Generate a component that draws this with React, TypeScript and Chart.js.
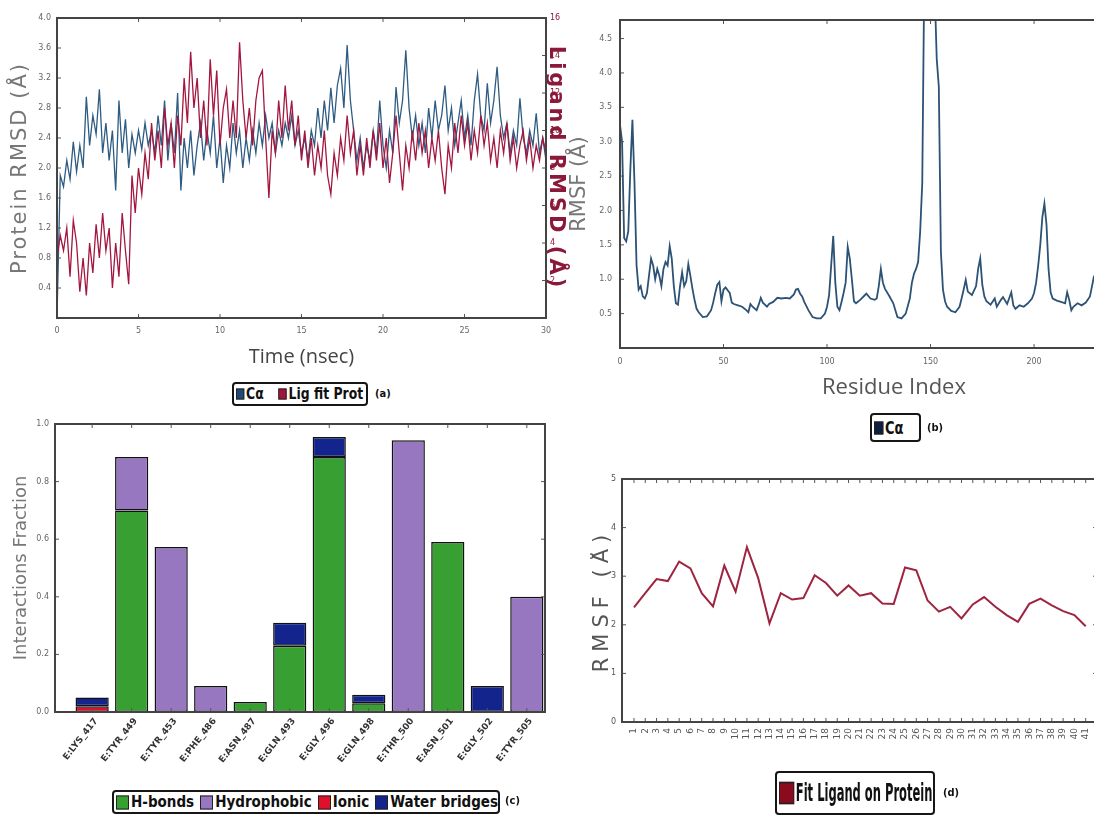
import React, { useEffect, useRef } from 'react';
import { Chart, registerables } from 'chart.js';

Chart.register(...registerables);
Chart.defaults.font.family = "'DejaVu Sans', sans-serif";

// ---------------- Panel (a): RMSD vs time ----------------
const A_TIME_STEP = 0.2; // ns between frames
const A_CA_RMSD = [
  0.0, 1.9, 1.75, 2.1, 1.85, 2.35, 1.95, 2.3, 2.0, 2.95,
  2.3, 2.7, 2.45, 3.05, 2.2, 2.6, 2.1, 2.5, 1.7, 2.9,
  2.2, 2.65, 2.0, 2.45, 2.2, 2.5, 2.25, 2.6, 2.3, 2.5,
  2.2, 2.7, 2.3, 2.9, 2.1, 2.6, 2.2, 3.0, 1.7, 2.4,
  2.0, 2.5, 1.9, 2.3, 2.6, 2.1, 2.5, 2.2, 2.7, 2.0,
  2.4, 1.8, 2.3, 2.0, 2.6, 2.2, 2.5, 2.0, 2.4, 2.1,
  2.5, 2.2, 2.6, 2.3, 2.7, 2.4, 2.6, 2.2, 2.5, 2.3,
  2.6, 2.4, 2.7, 2.3, 2.5, 2.2, 2.4, 2.1, 2.5, 2.3,
  2.8, 2.4, 2.9, 2.5, 3.07, 2.6, 3.1, 3.33, 2.8, 3.64,
  2.9, 2.5, 2.1, 2.4, 2.0, 2.3, 2.1, 2.5, 2.2, 2.9,
  2.3, 2.0, 2.5, 2.2, 3.08, 2.6, 2.9, 3.57, 2.8, 2.4,
  2.7, 2.3, 2.6, 2.2, 2.8, 2.4, 2.9, 2.5, 2.7, 3.1,
  2.5, 2.8, 2.3, 2.6, 2.9, 2.4, 2.7, 2.3, 2.9, 3.25,
  2.7, 2.5, 3.13, 2.6, 2.9, 3.35, 2.7, 2.4, 2.6, 2.2,
  2.5, 2.3, 2.93, 2.4, 2.2, 2.5, 2.3, 2.73, 2.2, 2.4,
  2.1,
];
const A_LIG_RMSD = [
  3.2, 4.4, 3.6, 4.8, 2.2, 5.2, 4.0, 1.4, 3.2, 1.2,
  4.0, 2.4, 5.0, 3.2, 5.6, 3.6, 4.8, 1.6, 4.0, 2.2,
  5.6, 3.6, 1.8, 7.6, 5.6, 8.0, 6.6, 8.8, 7.4, 10.4,
  8.4, 10.0, 8.0, 11.2, 9.2, 10.4, 8.0, 10.8, 9.2, 12.8,
  10.4, 14.2, 11.2, 12.8, 9.6, 11.6, 9.2, 13.8, 10.8, 13.2,
  9.2, 11.2, 12.2, 9.6, 11.6, 9.6, 14.7, 11.6, 9.6, 11.2,
  9.2, 11.6, 12.8, 13.2, 9.6, 6.4, 10.0, 8.8, 11.6, 9.6,
  12.4, 10.0, 11.6, 9.2, 10.8, 8.4, 10.0, 8.0, 9.6, 7.6,
  9.2, 8.0, 10.0, 7.6, 6.6, 8.8, 7.6, 9.6, 8.4, 10.8,
  8.8, 10.0, 7.6, 9.2, 7.6, 9.6, 8.0, 10.0, 8.4, 10.4,
  8.0, 9.6, 7.2, 8.8, 10.8, 8.8, 6.8, 9.2, 8.0, 10.0,
  8.4, 10.4, 8.8, 10.0, 8.0, 9.6, 8.4, 10.0, 8.0, 6.6,
  9.2, 8.0, 10.4, 8.8, 10.8, 9.2, 10.4, 8.4, 10.0, 8.8,
  10.8, 9.2, 10.4, 8.4, 9.6, 8.0, 10.0, 8.8, 10.4, 8.4,
  9.6, 8.0, 9.2, 10.0, 8.4, 9.6, 8.0, 9.2, 8.4, 9.6,
  8.8,
];
const A_TIME_TICKS = [0, 5, 10, 15, 20, 25, 30];
const A_PROT_TICKS = [0.4, 0.8, 1.2, 1.6, 2.0, 2.4, 2.8, 3.2, 3.6, 4.0];
const A_LIG_TICKS = [2, 4, 6, 8, 10, 12, 14, 16];

// ---------------- Panel (b): protein RMSF ----------------
const B_RESIDUES = [
  0, 1, 2, 3, 4, 5, 6, 7, 8, 9, 10, 11, 12, 13, 15, 16, 17, 18, 19, 20,
  21, 22, 23, 24, 25, 26, 27, 28, 29, 30, 31, 32, 33, 34, 35, 36, 37, 38, 40, 42,
  44, 45, 46, 47, 48, 49, 50, 51, 52, 53, 54, 55, 57, 59, 61, 62, 63, 64, 66, 67,
  68, 69, 71, 72, 74, 76, 78, 80, 82, 84, 85, 86, 87, 88, 89, 91, 93, 95, 97, 99,
  100, 101, 102, 103, 104, 105, 106, 107, 108, 109, 110, 111, 112, 113, 114, 116, 118, 119, 121, 123,
  124, 125, 126, 127, 128, 130, 132, 134, 136, 138, 140, 141, 142, 143, 144, 145, 146, 147, 148, 149,
  150, 151, 152, 153, 154, 155, 156, 157, 158, 160, 162, 164, 165, 166, 167, 168, 170, 172, 173, 174,
  175, 176, 177, 179, 181, 182, 184, 185, 187, 189, 190, 191, 193, 195, 197, 199, 200, 201, 202, 203,
  204, 205, 206, 207, 208, 209, 211, 213, 215, 216, 217, 218, 219, 221, 223, 225, 227, 229,
];
const B_RMSF = [
  3.25, 3.0, 1.6, 1.55, 1.7, 2.6, 3.32, 2.4, 1.2, 0.85, 0.9, 0.75, 0.72, 0.8, 1.3, 1.2, 1.0, 1.15, 1.05, 0.9,
  1.15, 1.25, 1.2, 1.48, 1.3, 0.9, 0.65, 0.63, 0.9, 1.1, 0.9, 0.97, 1.22, 1.05, 0.86, 0.7, 0.57, 0.52, 0.45, 0.46,
  0.55, 0.66, 0.8, 0.92, 0.96, 0.68, 0.85, 0.88, 0.84, 0.8, 0.66, 0.64, 0.62, 0.6, 0.55, 0.52, 0.64, 0.6, 0.55, 0.63,
  0.73, 0.66, 0.6, 0.64, 0.67, 0.73, 0.72, 0.73, 0.72, 0.78, 0.85, 0.86, 0.79, 0.75, 0.67, 0.55, 0.45, 0.43, 0.43, 0.5,
  0.6, 0.77, 1.2, 1.63, 0.95, 0.6, 0.55, 0.67, 0.8, 0.95, 1.47, 1.3, 1.0, 0.68, 0.65, 0.7, 0.76, 0.79, 0.72, 0.7,
  0.72, 0.9, 1.15, 0.95, 0.86, 0.76, 0.65, 0.45, 0.43, 0.5, 0.72, 0.95, 1.08, 1.15, 1.25, 1.7, 2.4, 5.5, 6.0, 6.2,
  6.0, 5.8, 5.2, 4.2, 3.8, 1.4, 0.85, 0.68, 0.6, 0.54, 0.52, 0.6, 0.72, 0.85, 0.99, 0.82, 0.77, 0.9, 1.15, 1.3,
  0.92, 0.75, 0.68, 0.63, 0.72, 0.6, 0.7, 0.74, 0.64, 0.81, 0.62, 0.57, 0.62, 0.6, 0.65, 0.72, 0.8, 0.95, 1.2, 1.5,
  1.9, 2.1, 1.8, 1.15, 0.81, 0.72, 0.69, 0.67, 0.65, 0.81, 0.7, 0.55, 0.6, 0.65, 0.62, 0.66, 0.75, 1.05,
];
const B_X_TICKS = [0, 50, 100, 150, 200, 250];
const B_Y_TICKS = [0.5, 1.0, 1.5, 2.0, 2.5, 3.0, 3.5, 4.0, 4.5];

// ---------------- Panel (c): interaction fractions ----------------
const C_RESIDUES = [
  'E:LYS_417', 'E:TYR_449', 'E:TYR_453', 'E:PHE_486', 'E:ASN_487', 'E:GLN_493',
  'E:GLY_496', 'E:GLN_498', 'E:THR_500', 'E:ASN_501', 'E:GLY_502', 'E:TYR_505',
];
const C_HBONDS = [null, 0.70, null, null, 0.035, 0.23, 0.885, 0.03, null, 0.59, null, null];
const C_HYDROPHOBIC = [null, 0.185, 0.573, 0.09, null, null, null, null, 0.944, null, null, 0.40];
const C_IONIC = [0.02, null, null, null, null, null, null, null, null, null, null, null];
const C_WATER = [0.03, null, null, null, null, 0.08, 0.07, 0.03, null, null, 0.09, null];
const C_Y_TICKS = [0, 0.2, 0.4, 0.6, 0.8, 1.0];

// ---------------- Panel (d): ligand RMSF ----------------
const D_ATOMS = [
  '1', '2', '3', '4', '5', '6', '7', '8', '9', '10', '11', '12', '13', '14',
  '15', '16', '17', '18', '19', '20', '21', '22', '23', '24', '25', '26', '27', '28',
  '29', '30', '31', '32', '33', '34', '35', '36', '37', '38', '39', '40', '41',
];
const D_RMSF = [
  2.36, 2.65, 2.94, 2.9, 3.3, 3.16, 2.65, 2.38, 3.22, 2.68, 3.6, 2.96, 2.03, 2.65,
  2.52, 2.55, 3.02, 2.86, 2.6, 2.81, 2.6, 2.65, 2.44, 2.43, 3.18, 3.12, 2.5, 2.27,
  2.37, 2.13, 2.42, 2.57, 2.37, 2.2, 2.06, 2.43, 2.54, 2.4, 2.28, 2.2, 1.97,
];
const D_Y_TICKS = [0, 1, 2, 3, 4, 5];

// ---------------- helpers ----------------
const framePlugin: any = {
  id: 'frame',
  beforeDraw(chart: any, _args: any, opts: any) {
    const sp = (opts && opts.titleSpacing) || {};
    Object.keys(sp).forEach((id) => {
      const s: any = chart.scales[id];
      if (s && !s.__spaced) {
        const orig = s.drawTitle.bind(s);
        s.drawTitle = () => {
          const c = s.ctx;
          c.save();
          c.letterSpacing = sp[id] + 'px';
          orig();
          c.restore();
        };
        s.__spaced = true;
      }
    });
  },
  afterDraw(chart: any, _args: any, opts: any) {
    const { ctx, chartArea: a } = chart;
    const L = opts.tickLen ?? 4;
    const scales: any[] = Object.values(chart.scales);
    const yCount = scales.filter((s) => !s.isHorizontal()).length;
    const mirror = yCount === 1;
    ctx.save();
    ctx.lineWidth = 1;
    ctx.strokeStyle = opts.tickColor || '#555';
    ctx.beginPath();
    scales.forEach((s) => {
      s.ticks.forEach((t: any) => {
        const p = s.getPixelForValue(t.value);
        if (s.isHorizontal()) {
          if (p < a.left - 1 || p > a.right + 1) return;
          ctx.moveTo(p, a.top); ctx.lineTo(p, a.top + L);
          ctx.moveTo(p, a.bottom); ctx.lineTo(p, a.bottom - L);
        } else {
          if (p < a.top - 1 || p > a.bottom + 1) return;
          const left = s.position === 'left';
          if (left || mirror) { ctx.moveTo(a.left, p); ctx.lineTo(a.left + L, p); }
          if (!left || mirror) { ctx.moveTo(a.right, p); ctx.lineTo(a.right - L, p); }
        }
      });
    });
    ctx.stroke();
    ctx.lineWidth = opts.frameWidth ?? 2;
    ctx.strokeStyle = opts.frameColor || '#444';
    ctx.strokeRect(a.left, a.top, a.width, a.height);
    ctx.restore();
  },
};

const tickFont = { family: "'DejaVu Sans', sans-serif", size: 8 };
const noGrid = { display: false, drawTicks: false };
const noBorder = { display: false };
const setTicks = (vals: number[]) => (s: any) => { s.ticks = vals.map((v) => ({ value: v })); };
const fixW = (w: number) => (s: any) => { s.width = w; };
const fixH = (h: number) => (s: any) => { s.height = h; s.paddingLeft = 0; s.paddingRight = 0; };
const base = {
  animation: false,
  responsive: true,
  maintainAspectRatio: false,
  events: [],
};

function configA(): any {
  return {
    type: 'line',
    data: {
      datasets: [
        {
          label: 'Lig fit Prot',
          data: A_LIG_RMSD.map((y, i) => ({ x: i * A_TIME_STEP, y })),
          yAxisID: 'y1', borderColor: '#a3163f', borderWidth: 1.3, pointRadius: 0, order: 0,
        },
        {
          label: 'Cα',
          data: A_CA_RMSD.map((y, i) => ({ x: i * A_TIME_STEP, y })),
          yAxisID: 'y', borderColor: '#2d5b82', borderWidth: 1.3, pointRadius: 0, order: 1,
        },
      ],
    },
    options: {
      ...base,
      layout: { padding: { top: 18, left: 0, right: 0, bottom: 0 } },
      plugins: { legend: { display: false }, tooltip: { enabled: false }, frame: { titleSpacing: { y: 2, y1: 3 } } },
      scales: {
        x: {
          type: 'linear', min: 0, max: 30, afterBuildTicks: setTicks(A_TIME_TICKS), afterFit: fixH(60),
          grid: noGrid, border: noBorder,
          ticks: { font: tickFont, color: '#666', padding: 8, maxRotation: 0, callback: (v: number) => String(v) },
          title: { display: true, text: 'Time (nsec)', font: { family: "'Open Sans', sans-serif", size: 20 }, color: '#444', padding: { top: 0, bottom: 9 } },
        },
        y: {
          position: 'left', min: 0, max: 4, afterBuildTicks: setTicks(A_PROT_TICKS), afterFit: fixW(57),
          grid: noGrid, border: noBorder,
          ticks: { font: tickFont, color: '#666', padding: 6, callback: (v: number) => v.toFixed(1) },
          title: { display: true, text: 'Protein RMSD (Å)', font: { size: 21 }, color: '#777', padding: { top: 8, bottom: 0 } },
        },
        y1: {
          position: 'right', min: 0, max: 16, afterBuildTicks: setTicks(A_LIG_TICKS), afterFit: fixW(54),
          grid: noGrid, border: noBorder,
          ticks: { font: tickFont, color: '#8b1a3a', padding: 4, callback: (v: number) => String(v) },
          title: { display: true, text: 'Ligand RMSD (Å)', font: { size: 21, weight: 'bold' }, color: '#8b1a3a', padding: { top: 32, bottom: 0 } },
        },
      },
    },
    plugins: [framePlugin],
  };
}

function configB(): any {
  return {
    type: 'line',
    data: {
      datasets: [{
        label: 'Cα',
        data: B_RESIDUES.map((r, i) => ({ x: r, y: B_RMSF[i] })),
        borderColor: '#2c5275', borderWidth: 1.8, pointRadius: 0,
      }],
    },
    options: {
      ...base,
      layout: { padding: { top: 20, left: 0, right: 32, bottom: 0 } },
      plugins: { legend: { display: false }, tooltip: { enabled: false }, frame: {} },
      scales: {
        x: {
          type: 'linear', min: 0, max: 264.7, afterBuildTicks: setTicks(B_X_TICKS), afterFit: fixH(97),
          grid: noGrid, border: noBorder,
          ticks: { font: tickFont, color: '#666', padding: 9, maxRotation: 0, callback: (v: number) => String(v) },
          title: { display: true, text: 'Residue Index', font: { family: "'Open Sans', sans-serif", size: 22 }, color: '#555', padding: { top: 0, bottom: 44 } },
        },
        y: {
          position: 'left', min: 0, max: 4.77, afterBuildTicks: setTicks(B_Y_TICKS), afterFit: fixW(60),
          grid: noGrid, border: noBorder,
          ticks: { font: tickFont, color: '#666', padding: 8, callback: (v: number) => v.toFixed(1) },
          title: { display: true, text: 'RMSF (Å)', font: { size: 21 }, color: '#777', padding: { top: 7, bottom: 0 } },
        },
      },
    },
    plugins: [framePlugin],
  };
}

function configC(): any {
  const ds = (label: string, vals: (number | null)[], color: string) => ({
    label,
    data: vals.map((y, i) => ({ x: i, y })),
    backgroundColor: color,
    borderColor: '#111',
    borderWidth: 1.5,
    borderSkipped: false,
    stack: 'all',
    barPercentage: 0.84,
    categoryPercentage: 1,
  });
  return {
    type: 'bar',
    data: {
      datasets: [
        ds('H-bonds', C_HBONDS, '#38a033'),
        ds('Hydrophobic', C_HYDROPHOBIC, '#9677c0'),
        ds('Ionic', C_IONIC, '#e0102a'),
        ds('Water bridges', C_WATER, '#13248c'),
      ],
    },
    options: {
      ...base,
      layout: { padding: { top: 14, left: 0, right: 45, bottom: 0 } },
      plugins: { legend: { display: false }, tooltip: { enabled: false }, frame: {} },
      scales: {
        x: {
          type: 'linear', min: -0.94, max: 11.46, offset: false,
          afterBuildTicks: setTicks(C_RESIDUES.map((_, i) => i)), afterFit: fixH(70),
          grid: noGrid, border: noBorder,
          ticks: {
            font: { family: "'DejaVu Sans', sans-serif", size: 9, weight: 'bold' }, color: '#333',
            padding: 4, labelOffset: 4, minRotation: 52, maxRotation: 52, autoSkip: false,
            callback: (v: number) => C_RESIDUES[v] ?? '',
          },
        },
        y: {
          position: 'left', min: 0, max: 1, stacked: true, afterBuildTicks: setTicks(C_Y_TICKS), afterFit: fixW(55),
          grid: noGrid, border: noBorder,
          ticks: { font: tickFont, color: '#666', padding: 6, callback: (v: number) => v.toFixed(1) },
          title: { display: true, text: 'Interactions Fraction', font: { size: 18 }, color: '#777', padding: { top: 11, bottom: 0 } },
        },
      },
    },
    plugins: [framePlugin],
  };
}

function configD(): any {
  return {
    type: 'line',
    data: {
      datasets: [{
        label: 'Fit Ligand on Protein',
        data: D_RMSF.map((y, i) => ({ x: i + 1, y })),
        borderColor: '#9e2440', borderWidth: 2, pointRadius: 0,
      }],
    },
    options: {
      ...base,
      layout: { padding: { top: 39, left: 0, right: 0, bottom: 0 } },
      plugins: { legend: { display: false }, tooltip: { enabled: false }, frame: { titleSpacing: { y: 6 } } },
      scales: {
        x: {
          type: 'linear', min: -0.06, max: 42.0, afterBuildTicks: setTicks(D_ATOMS.map((_, i) => i + 1)), afterFit: fixH(48),
          grid: noGrid, border: noBorder,
          ticks: {
            font: { family: "'DejaVu Sans', sans-serif", size: 9 }, color: '#555', padding: 6, minRotation: 90, maxRotation: 90, autoSkip: false,
            callback: (v: number) => D_ATOMS[v - 1] ?? '',
          },
        },
        y: {
          position: 'left', min: 0, max: 5, afterBuildTicks: setTicks(D_Y_TICKS), afterFit: fixW(32),
          grid: noGrid, border: noBorder,
          ticks: { font: tickFont, color: '#555', padding: 6, callback: (v: number) => String(v) },
          title: { display: true, text: 'RMSF (Å)', font: { size: 21 }, color: '#555', padding: { top: 0, bottom: 0 } },
        },
      },
    },
    plugins: [framePlugin],
  };
}

const legendFont = "'DejaVu Sans Condensed', 'DejaVu Sans', sans-serif";

function Swatch({ color, w, h }: { color: string; w: number; h: number }) {
  return (
    <span style={{ display: 'inline-block', width: w, height: h, background: color, border: '1px solid #222', boxSizing: 'border-box', marginRight: 2, flex: 'none' }} />
  );
}

function Box({ left, top, width, height, children }: any) {
  return (
    <div style={{ position: 'absolute', left, top, width, height, border: '2px solid #161616', borderRadius: 4, boxSizing: 'border-box', overflow: 'hidden', background: '#fff' }}>
      {children}
    </div>
  );
}

function Row({ scaleX = 1, scaleY = 1, size, left = 2, children }: any) {
  return (
    <div style={{
      position: 'absolute', left, top: '50%', display: 'flex', alignItems: 'center', whiteSpace: 'nowrap',
      transform: `translateY(-50%) scale(${scaleX}, ${scaleY})`, transformOrigin: 'left center',
      fontFamily: legendFont, fontWeight: 'bold', fontSize: size, color: '#111', lineHeight: 1,
    }}>
      {children}
    </div>
  );
}

function Tag({ left, top, text, size = 10 }: any) {
  return (
    <div style={{ position: 'absolute', left, top, fontFamily: legendFont, fontWeight: 'bold', fontSize: size, color: '#111', lineHeight: 1 }}>
      {text}
    </div>
  );
}

export default function App() {
  const ra = useRef<HTMLCanvasElement>(null);
  const rb = useRef<HTMLCanvasElement>(null);
  const rc = useRef<HTMLCanvasElement>(null);
  const rd = useRef<HTMLCanvasElement>(null);

  useEffect(() => {
    const charts = [
      new Chart(ra.current as any, configA()),
      new Chart(rb.current as any, configB()),
      new Chart(rc.current as any, configC()),
      new Chart(rd.current as any, configD()),
    ];
    return () => charts.forEach((c) => c.destroy());
  }, []);

  const panel = (left: number, top: number, width: number, height: number, ref: any) => (
    <div style={{ position: 'absolute', left, top, width, height }}>
      <canvas ref={ref} />
    </div>
  );

  return (
    <div style={{ position: 'fixed', left: 0, top: 0, width: 1094, height: 817, overflow: 'hidden', background: '#fff' }}>
      {panel(0, 0, 600, 378, ra)}
      {panel(560, 0, 640, 445, rb)}
      {panel(0, 410, 590, 372, rc)}
      {panel(590, 440, 507, 330, rd)}

      {/* legend (a) */}
      <Box left={232} top={382} width={136} height={24}>
        <Row size={15} scaleX={0.92}>
          <Swatch color="#1f4a73" w={9} h={11} />
          <span>Cα</span>
          <span style={{ display: 'inline-block', width: 16 }} />
          <Swatch color="#a0173e" w={9} h={11} />
          <span>Lig fit Prot</span>
        </Row>
      </Box>
      <Tag left={375} top={388} text="(a)" size={11} />

      {/* legend (b) */}
      <Box left={870} top={413} width={51} height={29}>
        <Row size={17} scaleX={0.85}>
          <Swatch color="#0d1f3c" w={11} h={13} />
          <span>Cα</span>
        </Row>
      </Box>
      <Tag left={927} top={422} text="(b)" size={11} />

      {/* legend (c) */}
      <Box left={112} top={790} width={388} height={24}>
        <Row size={15} left={2}>
          <Swatch color="#38a033" w={13} h={14} />
          <span>H-bonds</span>
          <span style={{ display: 'inline-block', width: 6 }} />
          <Swatch color="#9677c0" w={13} h={14} />
          <span>Hydrophobic</span>
          <span style={{ display: 'inline-block', width: 6 }} />
          <Swatch color="#e0102a" w={13} h={14} />
          <span>Ionic</span>
          <span style={{ display: 'inline-block', width: 6 }} />
          <Swatch color="#13248c" w={13} h={14} />
          <span>Water bridges</span>
        </Row>
      </Box>
      <Tag left={505} top={795} text="(c)" size={11} />

      {/* legend (d) */}
      <Box left={775} top={771} width={160} height={44}>
        <Row size={16} scaleX={0.8} scaleY={1.6}>
          <Swatch color="#8b0a1e" w={19} h={14} />
          <span>Fit Ligand on Protein</span>
        </Row>
      </Box>
      <Tag left={943} top={787} text="(d)" size={11} />
    </div>
  );
}
